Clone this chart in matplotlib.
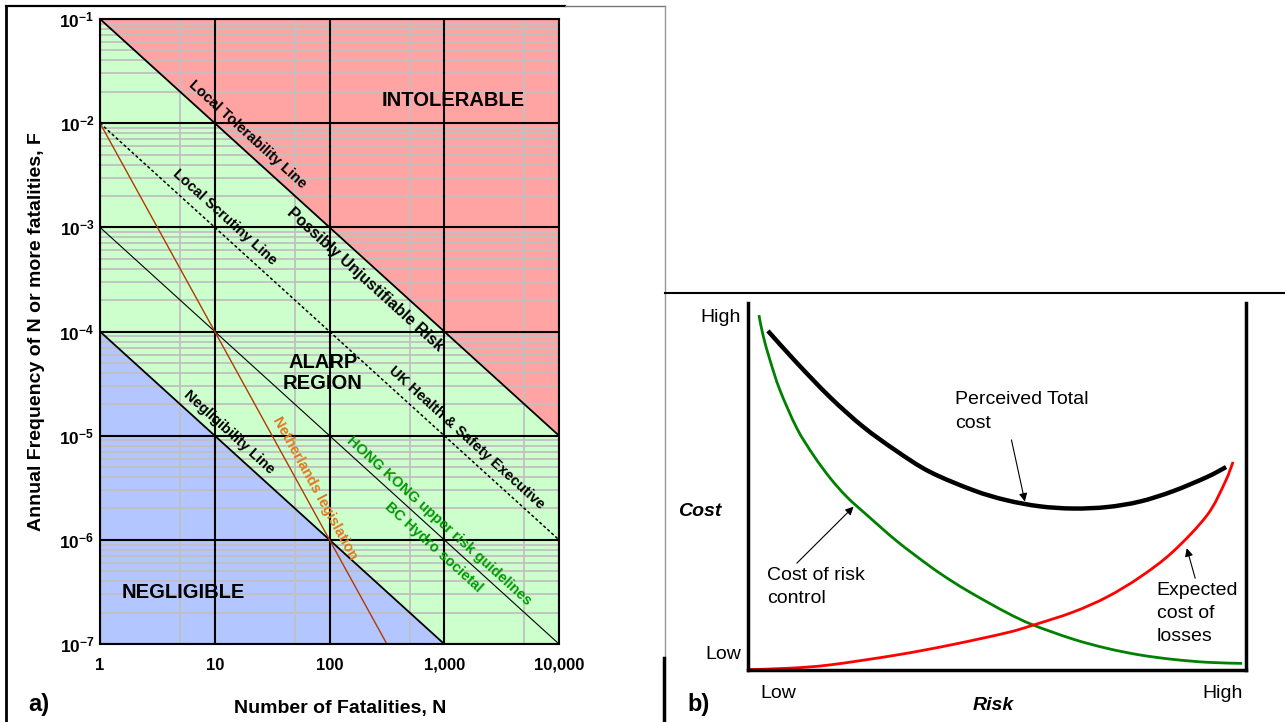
import numpy as np
import matplotlib
matplotlib.use('Agg')
import matplotlib.pyplot as plt
from matplotlib.lines import Line2D
from matplotlib.path import Path
from matplotlib.patches import PathPatch
from matplotlib import transforms

plt.rcParams['font.family'] = ['Liberation Sans', 'DejaVu Sans']
plt.rcParams['mathtext.fontset'] = 'custom'
plt.rcParams['mathtext.bf'] = 'Liberation Sans:bold'
plt.rcParams['mathtext.rm'] = 'Liberation Sans'
plt.rcParams['mathtext.it'] = 'Liberation Sans:italic'

# ---------------- data: panel a (F-N criteria) ----------------
N_ticks = [1, 10, 100, 1000, 10000]
N_tick_labels = ['1', '10', '100', '1,000', '10,000']
N_minor = [5, 50, 500, 5000]
F_ticks = [1e-7, 1e-6, 1e-5, 1e-4, 1e-3, 1e-2, 1e-1]
F_tick_labels = [r'$\mathbf{10^{-7}}$', r'$\mathbf{10^{-6}}$', r'$\mathbf{10^{-5}}$',
                 r'$\mathbf{10^{-4}}$', r'$\mathbf{10^{-3}}$', r'$\mathbf{10^{-2}}$',
                 r'$\mathbf{10^{-1}}$']
tol_N = [1, 10000]
tol_F = [1e-1, 1e-5]
scr_N = [1, 10000]
scr_F = [1e-2, 1e-6]
hk_N = [1, 10000]
hk_F = [1e-3, 1e-7]
neg_N = [1, 1000]
neg_F = [1e-4, 1e-7]
nl_N = [1, 316.2]
nl_F = [1e-2, 1e-7]

# ---------------- data: panel b (cost vs risk) ----------------
ctrl_risk = [0.022, 0.030, 0.044, 0.064, 0.098, 0.131, 0.165, 0.199, 0.239, 0.299, 0.365,
             0.406, 0.452, 0.520, 0.572, 0.653, 0.721, 0.787, 0.853, 0.922, 0.992]
ctrl_cost = [0.967, 0.913, 0.845, 0.763, 0.659, 0.586, 0.523, 0.471, 0.422, 0.351, 0.283,
             0.245, 0.207, 0.156, 0.123, 0.084, 0.059, 0.041, 0.029, 0.021, 0.018]
total_risk = [0.040, 0.098, 0.165, 0.231, 0.299, 0.365, 0.452, 0.518, 0.586, 0.653,
              0.721, 0.787, 0.853, 0.922, 0.960]
total_cost = [0.924, 0.837, 0.743, 0.663, 0.596, 0.540, 0.490, 0.463, 0.446, 0.440,
              0.444, 0.459, 0.487, 0.526, 0.553]
loss_risk = [0.0, 0.084, 0.165, 0.299, 0.406, 0.518, 0.572, 0.653, 0.721, 0.787, 0.853,
             0.922, 0.958, 0.974]
loss_cost = [0.001, 0.005, 0.014, 0.041, 0.068, 0.101, 0.122, 0.158, 0.199, 0.253, 0.322,
             0.422, 0.512, 0.567]

W, H = 1285, 722
fig = plt.figure(figsize=(W / 100, H / 100), dpi=100)


def fx(px):
    return px / W


def fy(py):
    return 1 - py / H


# ================= panel a =================
ax = fig.add_axes([fx(100), fy(644), (559 - 100) / W, (644 - 19) / H])
ax.set_facecolor('#CCFFCC')
ax.set_xscale('log')
ax.set_yscale('log')
ax.set_xlim(1, 10000)
ax.set_ylim(1e-7, 1e-1)

ax.fill_between(tol_N, tol_F, [1e-1, 1e-1], color='#FFA3A3', lw=0, zorder=0.1)
ax.fill_between(neg_N, [1e-7, 1e-7], neg_F, color='#B3C6FF', lw=0, zorder=0.1)

ax.set_xticks(N_ticks)
ax.set_xticklabels(N_tick_labels, fontsize=12, fontweight='bold')
ax.set_xticks([], minor=True)
ax.set_yticks(F_ticks)
ax.set_yticklabels(F_tick_labels, fontsize=12.5)
ax.set_yticks([], minor=True)
yminor = [m * 10.0 ** e for e in range(-7, -1) for m in range(2, 10)]
ax.tick_params(which='both', length=0)
ax.tick_params(axis='x', pad=10)
ax.tick_params(axis='y', pad=4)
ax.set_axisbelow(True)
ax.grid(which='major', color='black', lw=1.5)
# minor grid drawn below the black major grid
for v in yminor:
    ax.axhline(v, color='#C0C0C0', lw=1.3, zorder=0.3)
for v in N_minor:
    ax.axvline(v, color='#C0C0C0', lw=1.3, zorder=0.3)
for s in ax.spines.values():
    s.set_color('black')
    s.set_linewidth(1.5)

ax.plot(tol_N, tol_F, color='black', lw=1.3, zorder=2)
ax.plot(neg_N, neg_F, color='black', lw=1.3, zorder=2)
ax.plot(scr_N, scr_F, color='black', lw=1.1, ls=(0, (2, 1.5)), zorder=2)
ax.plot(hk_N, hk_F, color='black', lw=0.8, zorder=2)
ax.plot(nl_N, nl_F, color='#B03A00', lw=1.0, zorder=2)


def line_label(lineN, lineF, N, text, side, color='black', size=10.5, d=1.5):
    lx = np.log10(lineN)
    ly = np.log10(lineF)
    F = 10 ** np.interp(np.log10(N), lx, ly)
    p0 = ax.transData.transform((lineN[0], lineF[0]))
    p1 = ax.transData.transform((lineN[-1], lineF[-1]))
    ang = np.arctan2(p1[1] - p0[1], p1[0] - p0[0])
    nx, ny = -np.sin(ang), np.cos(ang)
    sgn = 1 if side == 'above' else -1
    tr = transforms.offset_copy(ax.transData, fig=fig, x=sgn * d * nx, y=sgn * d * ny,
                                units='points')
    ax.text(N, F, text, transform=tr, rotation=np.degrees(ang), rotation_mode='anchor',
            ha='center', va='baseline' if side == 'above' else 'top', color=color,
            fontsize=size, fontweight='bold', zorder=3)


line_label(tol_N, tol_F, 16.1, 'Local Tolerability Line', 'above', d=7)
line_label(tol_N, tol_F, 250, 'Possibly Unjustifiable Risk', 'below', size=11.5, d=5)
line_label(scr_N, scr_F, 10.1, 'Local Scrutiny Line', 'above', d=7)
line_label(scr_N, scr_F, 1312, 'UK Health & Safety Executive', 'above', d=7)
line_label(hk_N, hk_F, 781, 'HONG KONG upper risk guidelines', 'above', color='#009900',
           d=4.5)
line_label(hk_N, hk_F, 959, 'BC Hydro societal', 'below', color='#009900', d=4)
line_label(neg_N, neg_F, 11.3, 'Negligibility Line', 'above', d=5.5)
line_label(nl_N, nl_F, 60, 'Netherlands legislation', 'above', color='#E07820', d=5.8)

ax.text(1188, 1.64e-2, 'INTOLERABLE', ha='center', va='center', fontsize=14.5,
        fontweight='bold', zorder=3)
ax.text(87.7, 4.0e-5, 'ALARP\nREGION', ha='center', va='center', fontsize=14.5,
        fontweight='bold', linespacing=1.1, zorder=3)
ax.text(5.28, 3.14e-7, 'NEGLIGIBLE', ha='center', va='center', fontsize=14.5,
        fontweight='bold', zorder=3)

fig.text(fx(37), fy(332), 'Annual Frequency of N or more fatalities, F', rotation=90,
         ha='center', va='center', fontsize=14, fontweight='bold')
fig.text(fx(340), fy(708), 'Number of Fatalities, N', ha='center', va='center',
         fontsize=14, fontweight='bold')
fig.text(fx(39), fy(704), 'a)', ha='center', va='center', fontsize=17, fontweight='bold')

# ================= panel b =================
bx = fig.add_axes([fx(748), fy(670), 498 / W, 367 / H])
bx.set_xlim(0, 1)
bx.set_ylim(0, 1)
bx.spines['top'].set_visible(False)
for k in ('left', 'right', 'bottom'):
    bx.spines[k].set_linewidth(2.5)
    bx.spines[k].set_color('black')
bx.set_xticks([0.06, 0.952])
bx.set_xticklabels(['Low', 'High'], fontsize=14)
bx.set_yticks([0.049, 0.967])
bx.set_yticklabels(['Low', 'High'], fontsize=14)
bx.tick_params(length=0)
bx.tick_params(axis='x', pad=11)
bx.tick_params(axis='y', pad=5)


def smooth_curve(xs, ys, color, lw):
    P = np.column_stack([xs, ys])
    n = len(P)
    verts = [P[0]]
    codes = [Path.MOVETO]
    for i in range(n - 1):
        p0 = P[i - 1] if i > 0 else P[i]
        p1 = P[i]
        p2 = P[i + 1]
        p3 = P[i + 2] if i + 2 < n else P[i + 1]
        verts += [p1 + (p2 - p0) / 6.0, p2 - (p3 - p1) / 6.0, p2]
        codes += [Path.CURVE4] * 3
    bx.add_patch(PathPatch(Path(verts, codes), fill=False, edgecolor=color, lw=lw,
                           capstyle='butt', joinstyle='round'))


smooth_curve(ctrl_risk, ctrl_cost, '#008000', 2.0)
smooth_curve(loss_risk, loss_cost, '#FF0000', 2.0)
smooth_curve(total_risk, total_cost, 'black', 3.2)

ap = dict(arrowstyle='-|>', lw=0.8, color='black', mutation_scale=12, shrinkA=0, shrinkB=0)
bx.annotate('', xy=(0.556, 0.459), xytext=(0.529, 0.627), arrowprops=ap)
bx.annotate('', xy=(0.212, 0.445), xytext=(0.098, 0.291), arrowprops=ap)
bx.annotate('', xy=(0.881, 0.332), xytext=(0.898, 0.250), arrowprops=ap)
bx.text(0.416, 0.760, 'Perceived Total\ncost', ha='left', va='top', fontsize=14,
        linespacing=1.5)
bx.text(0.0375, 0.281, 'Cost of risk\ncontrol', ha='left', va='top', fontsize=14,
        linespacing=1.5)
bx.text(0.821, 0.240, 'Expected\ncost of\nlosses', ha='left', va='top', fontsize=14,
        linespacing=1.45)

fig.text(fx(700), fy(511), 'Cost', ha='center', va='center', fontsize=14,
         fontweight='bold', fontstyle='italic')
fig.text(fx(993), fy(706), 'Risk', ha='center', va='center', fontsize=14,
         fontweight='bold', fontstyle='italic')
fig.text(fx(699), fy(704), 'b)', ha='center', va='center', fontsize=17, fontweight='bold')


# ================= frames =================
def fline(x0, y0, x1, y1, color='black', lw=1.5):
    fig.add_artist(Line2D([fx(x0), fx(x1)], [fy(y0), fy(y1)], color=color, lw=lw,
                          transform=fig.transFigure))


fline(6, 6, 565, 6, lw=1.6)
fline(565, 6, 665, 6, color='#777777', lw=1)
fline(6, 6, 6, 722, lw=2)
fline(665, 6, 665, 658, color='#999999', lw=1)
fline(664, 658, 664, 722, lw=2.5)
fline(665, 293, 1285, 293, lw=1.5)

fig.savefig('out.png', dpi=100)
